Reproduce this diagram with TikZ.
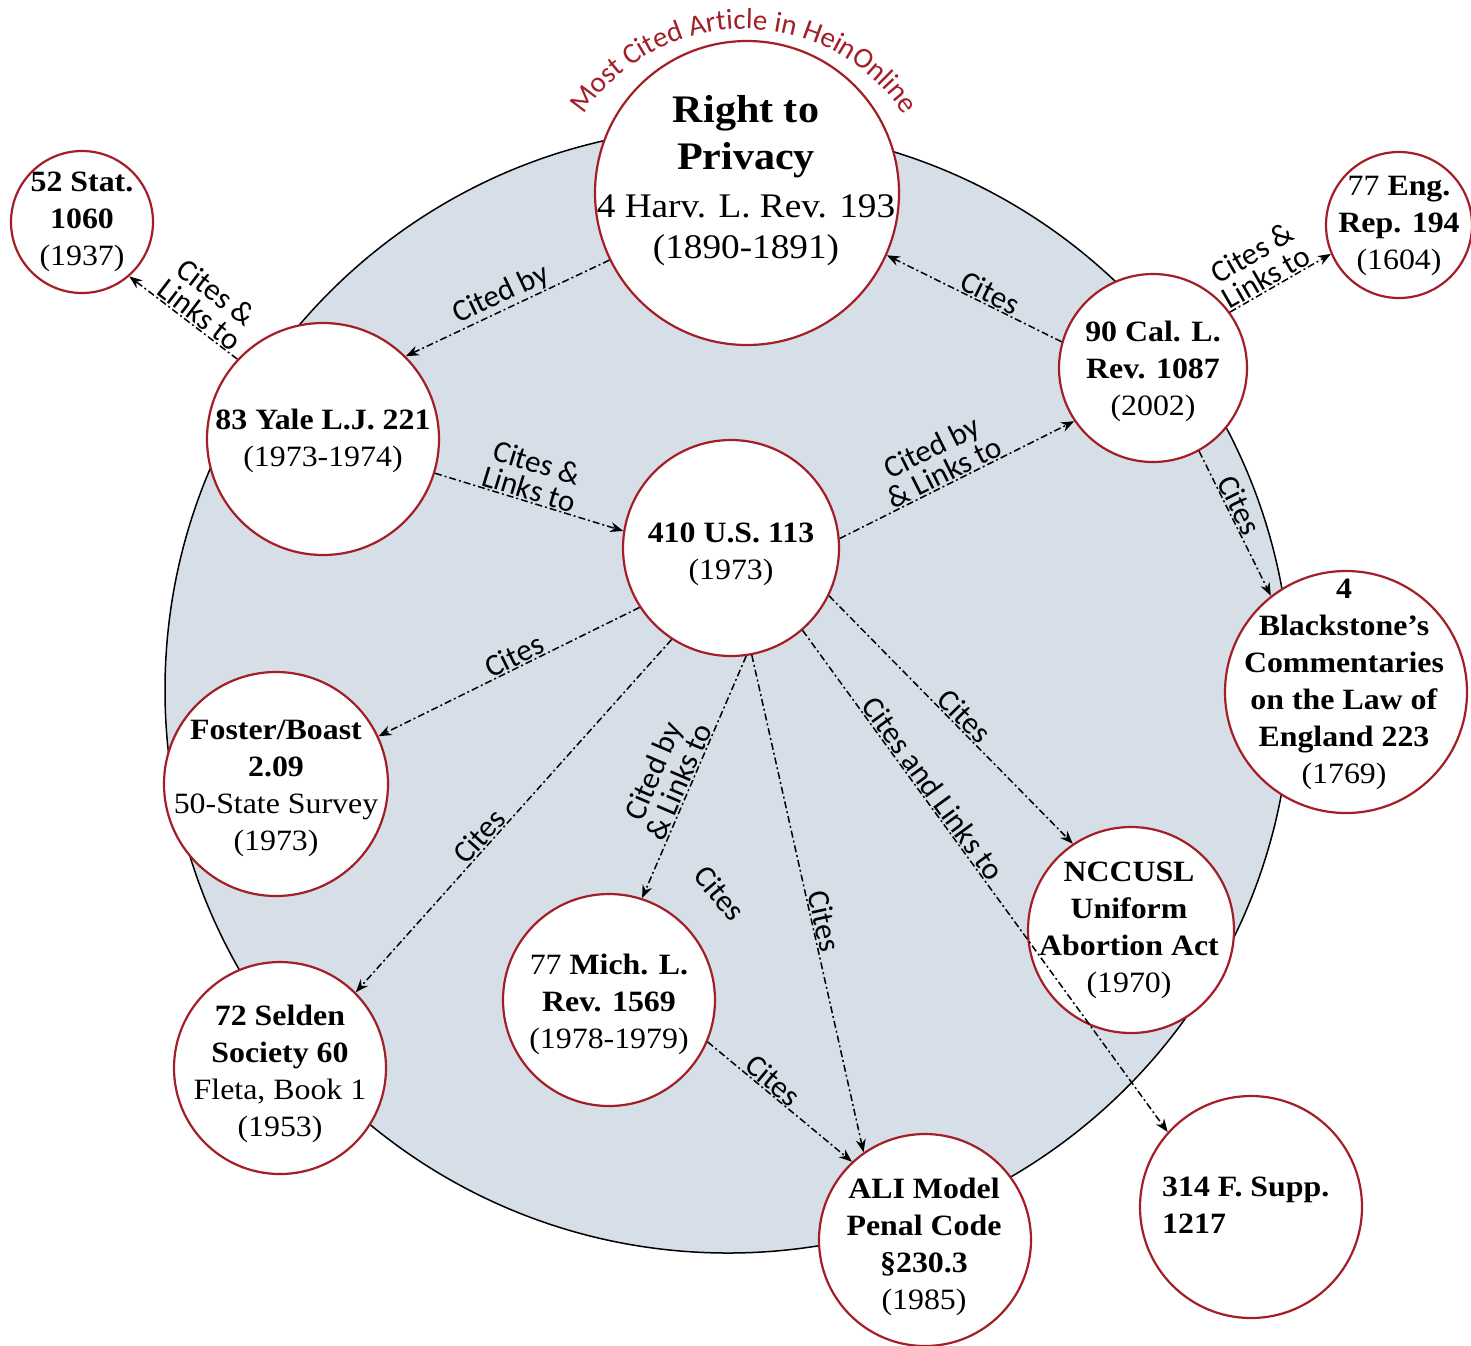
\documentclass[tikz,border=0pt]{standalone}
\usepackage{fontspec}
\setmainfont{Liberation Serif}[FakeStretch=1.08]
\newfontfamily\lab{Carlito}
\usetikzlibrary{arrows.meta,decorations.text}
\definecolor{heinred}{RGB}{163,30,38}
\definecolor{bigfill}{RGB}{214,222,232}
\newcommand{\bigtitle}{\fontsize{39}{45}\selectfont\bfseries}
\newcommand{\bigsub}{\fontsize{34.5}{45}\selectfont\mdseries}
\begin{document}
\begin{tikzpicture}[x=1pt,y=-1pt,
  doc/.style={circle, draw=heinred, line width=2.2pt, fill=white, inner sep=0pt},
  txt/.style={align=center, inner sep=0pt, font=\fontsize{29.5}{37}\selectfont},
  cite/.style={line width=1.5pt, dash pattern=on 7pt off 3pt on 2pt off 3pt, -{Stealth[length=13pt,width=10pt]}},
  lbl/.style={font=\lab\fontsize{31}{28}\selectfont, sloped, anchor=south, inner sep=1pt, align=center},
  lblfree/.style={font=\lab\fontsize{31}{28}\selectfont, inner sep=1pt}]
\useasboundingbox (0,0) rectangle (1471,1345);
\fill[white] (0,0) rectangle (1471,1345);
% big circle
\draw[fill=bigfill, line width=1.5pt] (728,690) circle[radius=563];
% nodes
\node[doc, minimum size=304pt] (priv) at (747,193) {};
\node[txt, font=\fontsize{39}{45}\selectfont] (privt) at (746,181) {\bigtitle Right to\\[2pt] \bigtitle Privacy\\[3pt] \bigsub 4 Harv. L. Rev. 193\\[-4pt] \bigsub (1890-1891)};
\node[doc, minimum size=142pt] (stat) at (82,222) {};
\node[txt] (statt) at (82,222) {\textbf{52 Stat.}\\ \textbf{1060}\\ (1937)};
\node[doc, minimum size=146pt] (eng) at (1399,225) {};
\node[txt] (engt) at (1399,226) {77 \textbf{Eng.}\\ \textbf{Rep. 194}\\ (1604)};
\node[doc, minimum size=232pt] (yale) at (323,439) {};
\node[txt] (yalet) at (323,441) {\textbf{83 Yale L.J. 221}\\ (1973-1974)};
\node[doc, minimum size=188pt] (cal) at (1153,368) {};
\node[txt] (calt) at (1153,371) {\textbf{90 Cal. L.}\\ \textbf{Rev. 1087}\\ (2002)};
\node[doc, minimum size=216pt] (us) at (731,548) {};
\node[txt] (ust) at (731,554) {\textbf{410 U.S. 113}\\ (1973)};
\node[doc, minimum size=242pt] (black) at (1346,692) {};
\node[txt] (blackt) at (1344,684) {\textbf{4}\\ \textbf{Blackstone’s}\\ \textbf{Commentaries}\\ \textbf{on the Law of}\\ \textbf{England 223}\\ (1769)};
\node[doc, minimum size=224pt] (foster) at (276,784) {};
\node[txt] (fostert) at (276,788) {\textbf{Foster/Boast}\\ \textbf{2.09}\\ 50-State Survey\\ (1973)};
\node[doc, minimum size=206pt] (nccusl) at (1131,930) {};
\node[txt] (nccuslt) at (1129,930) {\textbf{NCCUSL}\\ \textbf{Uniform}\\ \textbf{Abortion Act}\\ (1970)};
\node[doc, minimum size=212pt] (mich) at (609,1000) {};
\node[txt] (micht) at (609,1004) {77 \textbf{Mich. L.}\\ \textbf{Rev. 1569}\\ (1978-1979)};
\node[doc, minimum size=212pt] (selden) at (280,1068) {};
\node[txt] (seldent) at (280,1074) {\textbf{72 Selden}\\ \textbf{Society 60}\\ Fleta, Book 1\\ (1953)};
\node[doc, minimum size=212pt] (ali) at (925,1240) {};
\node[txt] (alit) at (924,1247) {\textbf{ALI Model}\\ \textbf{Penal Code}\\ \textbf{§230.3}\\ (1985)};
\node[doc, minimum size=222pt] (fsupp) at (1251,1207) {};
\node[txt, align=left, anchor=west] (fsuppt) at (1162,1205) {\textbf{314 F. Supp.}\\ \textbf{1217}};
% arc title
\path[decorate, decoration={text along path, text align=center,
  text={|\lab\fontsize{29}{30}\selectfont\color{heinred}|Most Cited Article in HeinOnline}}]
  (744,221) ++(-152:192) arc[start angle=-152, end angle=-28, radius=192];
% connectors
\draw[cite] (priv.206) -- node[lbl, pos=.5] {Cited by} (yale.45);
\draw[cite] (yale.137) -- node[lbl, pos=.42] {Cites \&\\ Links to} (stat.311);
\draw[cite] (yale.343) -- node[lbl, pos=.48] {Cites \&\\ Links to} (us.171);
\draw[cite] (cal.164) -- node[lbl, pos=.44] {Cites} (priv.336);
\draw[cite] (cal.36) -- node[lbl, pos=.42] {Cites \&\\ Links to} (eng.203);
\draw[cite] (us.5) -- node[lbl, pos=.47] {Cited by\\ \& Links to} (cal.214);
\draw[cite] (cal.299) -- node[lbl, pos=.41] {Cites} (black.128);
\draw[cite] (us.213) -- node[lbl, pos=.46] {Cites} (foster.25);
\draw[cite] (us.237) -- node[lbl, pos=.58] {Cites} (selden.45);
\draw[cite] (us.278) -- node[lbl, pos=.54] {Cited by\\ \& Links to} (mich.72);
\draw[cite] (us.281) -- node[lbl, pos=.54] {Cites} (ali.125);
\draw[cite] (us.334) -- node[lbl, pos=.52] {Cites} (nccusl.124);
\draw[cite] (us.311) -- node[lbl, pos=.33] {Cites and Links to} (fsupp.138);
\draw[cite] (mich.337) -- node[lbl, pos=.40] {Cites} (ali.133);
\node[lblfree, rotate=-50] (stray) at (720,893) {Cites};
\end{tikzpicture}
\end{document}
